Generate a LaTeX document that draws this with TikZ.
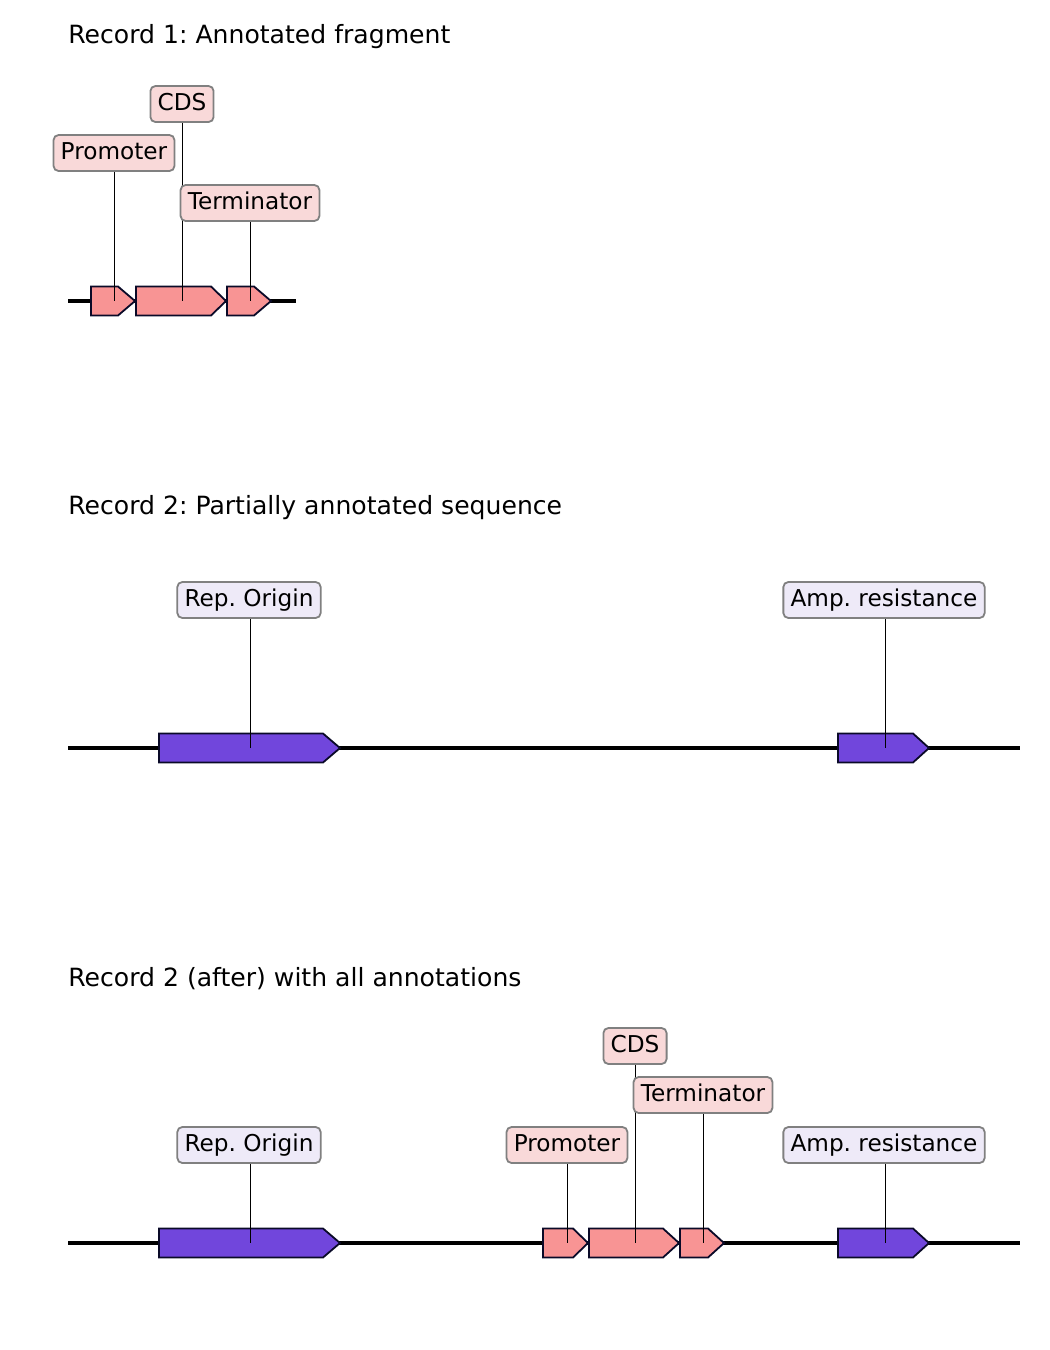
\documentclass[tikz,border=0pt]{standalone}
\usepackage{fontspec}
\setmainfont{DejaVu Sans}
\frenchspacing
\definecolor{featpink}{RGB}{248,148,148}
\definecolor{featpurple}{RGB}{113,70,220}
\definecolor{boxpink}{RGB}{249,217,217}
\definecolor{boxlav}{RGB}{238,234,248}
\definecolor{boxedge}{RGB}{128,128,128}
\definecolor{featedge}{RGB}{10,10,40}
\pgfdeclarelayer{background}
\pgfsetlayers{background,main}
\tikzset{
  lbl/.style={draw=boxedge, line width=0.9pt, rounded corners=2.5pt, inner xsep=3.6pt,
    inner ysep=0pt, minimum height=18pt, text height=8.6pt, text depth=2.2pt,
    font=\fontsize{11.6pt}{13pt}\selectfont},
  lblpink/.style={lbl, fill=boxpink},
  lbllav/.style={lbl, fill=boxlav},
  ttl/.style={anchor=base west, inner sep=0pt, font=\fontsize{12.55pt}{15pt}\selectfont},
  backbone/.style={line width=1.6pt},
  feat/.style={draw=featedge, line width=0.9pt, line join=miter},
  pointer/.style={line width=0.5pt}
}
% #1 left, #2 notch, #3 tip, #4 center y, #5 colour
\newcommand{\featarrow}[5]{%
  \draw[feat, fill=#5] (#1,#4-14.5) -- (#2,#4-14.5) -- (#3,#4) -- (#2,#4+14.5) -- (#1,#4+14.5) -- cycle;}
\begin{document}
\begin{tikzpicture}[x=0.5pt, y=-0.5pt]
\useasboundingbox (0,0) rectangle (1050,1350);

% ---------- Record 1 ----------
\node[ttl] (t1) at (68,43) {Record 1: Annotated fragment};
\coordinate (b1s) at (68,301);
\coordinate (b1e) at (296,301);
\coordinate (f1a) at (114,301);
\coordinate (f1b) at (182,301);
\coordinate (f1c) at (250,301);
\node[lblpink] (l1a) at (114,153) {Promoter};
\node[lblpink] (l1b) at (182,104) {CDS};
\node[lblpink] (l1c) at (250,203) {Terminator};
\begin{pgfonlayer}{background}
\draw[backbone] (b1s) -- (b1e);
\featarrow{91}{118}{135}{301}{featpink}
\featarrow{136}{211}{226}{301}{featpink}
\featarrow{227}{254}{271}{301}{featpink}
\draw[pointer] (l1a.south) -- (f1a);
\draw[pointer] (l1b.south) -- (f1b);
\draw[pointer] (l1c.south) -- (f1c);
\end{pgfonlayer}

% ---------- Record 2 ----------
\node[ttl] (t2) at (68,514) {Record 2: Partially annotated sequence};
\coordinate (b2s) at (68,748);
\coordinate (b2e) at (1020,748);
\coordinate (f2a) at (250,748);
\coordinate (f2b) at (885,748);
\node[lbllav] (l2a) at (249,600) {Rep. Origin};
\node[lbllav] (l2b) at (884,600) {Amp. resistance};
\begin{pgfonlayer}{background}
\draw[backbone] (b2s) -- (b2e);
\featarrow{159}{323}{340}{748}{featpurple}
\featarrow{838}{913}{929}{748}{featpurple}
\draw[pointer] (l2a.south -| f2a) -- (f2a);
\draw[pointer] (l2b.south -| f2b) -- (f2b);
\end{pgfonlayer}

% ---------- Record 3 ----------
\node[ttl] (t3) at (68,986) {Record 2 (after) with all annotations};
\coordinate (b3s) at (68,1243);
\coordinate (b3e) at (1020,1243);
\coordinate (f3a) at (250,1243);
\coordinate (f3b) at (567,1243);
\coordinate (f3c) at (635,1243);
\coordinate (f3d) at (703,1243);
\coordinate (f3e) at (885,1243);
\node[lbllav] (l3a) at (249,1145) {Rep. Origin};
\node[lblpink] (l3b) at (567,1145) {Promoter};
\node[lblpink] (l3c) at (635,1046) {CDS};
\node[lblpink] (l3d) at (703,1095) {Terminator};
\node[lbllav] (l3e) at (884,1145) {Amp. resistance};
\begin{pgfonlayer}{background}
\draw[backbone] (b3s) -- (b3e);
\featarrow{159}{323}{340}{1243}{featpurple}
\featarrow{543}{573}{588}{1243}{featpink}
\featarrow{589}{663}{679}{1243}{featpink}
\featarrow{680}{708}{724}{1243}{featpink}
\featarrow{838}{913}{929}{1243}{featpurple}
\draw[pointer] (l3a.south -| f3a) -- (f3a);
\draw[pointer] (l3b.south) -- (f3b);
\draw[pointer] (l3c.south) -- (f3c);
\draw[pointer] (l3d.south) -- (f3d);
\draw[pointer] (l3e.south -| f3e) -- (f3e);
\end{pgfonlayer}
\end{tikzpicture}
\end{document}
